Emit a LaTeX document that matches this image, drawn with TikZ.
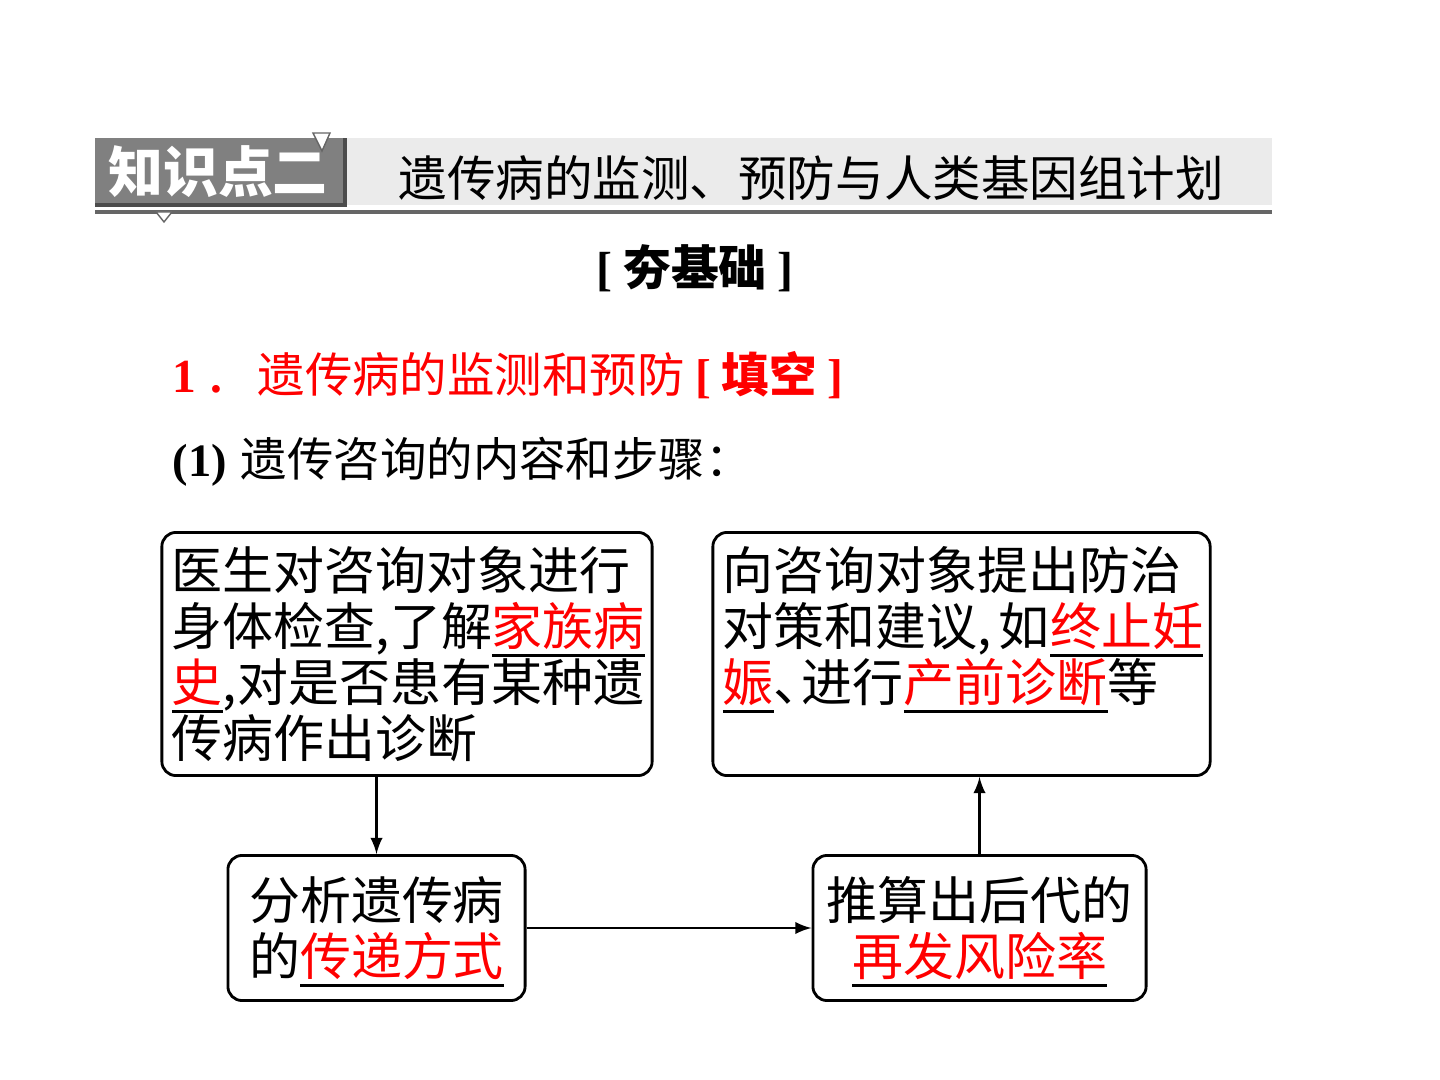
\documentclass[tikz,border=0pt]{standalone}
\usepackage{fontspec}
\setmainfont{Noto Sans CJK SC}
\newfontfamily\timesfont{Liberation Serif}
\usetikzlibrary{calc}
\newsavebox\fillbox
\newcommand\fillin[1]{\sbox\fillbox{\color{red}#1}\leavevmode\rlap{\raisebox{-3.2pt}[0pt][0pt]{\rule{\wd\fillbox}{0.8pt}}}\usebox\fillbox}

\begin{document}
\begin{tikzpicture}[x=0.01cm, y=-0.01cm,
            card/.style={draw, line width=0.8pt, rounded corners=4pt, inner xsep=0.1cm, font=\fontsize{14.5}{15.9}\selectfont},
            txt/.style={inner sep=0pt},
            flow/.style={-latex, line width=0.6pt}]
            \useasboundingbox (0,0) rectangle (1440,1080);
            \fill[black!8] (345,138) rectangle (1272,205);
            \fill[black!50] (95,138) rectangle (345,205);
            \draw[black!70, line width=1pt] (95,205) -- (345,205) -- (345,138);
            \draw[black!60, line width=1pt] (95,212) -- (1272,212);
            \filldraw[fill=white, draw=black!60] (313,133) -- (330,133) -- (322,151) -- cycle;
            \filldraw[fill=white, draw=black!60] (156,212) -- (172,212) -- (164,222) -- cycle;
            \node[text=white, font=\fontsize{15.6}{18}\selectfont\bfseries] (topic) at (218,172) {知识点二};
            \node[txt, anchor=west, font=\fontsize{13.8}{16}\selectfont] (subject) at (398,178) {遗传病的监测、预防与人类基因组计划};
            \node[txt, font=\fontsize{13.6}{16}\selectfont\bfseries] (basis) at (695,268) {{\timesfont[} 夯基础 {\timesfont]}};
            \node[txt, anchor=west, text=red, font=\fontsize{13.5}{16}\selectfont] (point) at (172,375) {{\timesfont\bfseries 1\hspace{4pt}.}\hspace{10pt}遗传病的监测和预防 {\timesfont\bfseries[} {\bfseries 填空} {\timesfont\bfseries]}};
            \node[txt, anchor=west, font=\fontsize{13.2}{16}\selectfont] (intro) at (172,462) {{\timesfont\bfseries (1)}\hspace{4pt}遗传咨询的内容和步骤：};
            \node[card, text width=4.7cm, minimum height=2.43cm, align=left] (exam) at (407,654) {医生对咨询对象进行\\身体检查,了解\fillin{家族病}\\\fillin{史},对是否患有某种遗\\传病作出诊断};
            \node[card, text width=4.77cm, minimum height=2.43cm, align=left] (advice) at (961.5,654) {向咨询对象提出防治\\对策和建议,\kern2pt 如\fillin{终止妊}\\\fillin{娠}、\kern-0.45em进行\fillin{产前诊断}等\\\phantom{传}};
            \node[card, text width=2.77cm, minimum height=1.45cm, align=center] (mode) at (376.5,928) {分析遗传病\\的\fillin{传递方式}};
            \node[card, text width=3.13cm, minimum height=1.45cm, align=center] (risk) at (979.5,928) {推算出后代的\\\fillin{再发风险率}};
            \draw[flow] (exam.south -| mode.north) -- (mode.north);
            \draw[flow] (mode) -- (risk);
            \draw[flow] (risk.north) -- (risk.north |- advice.south);
        \end{tikzpicture}
\end{document}
